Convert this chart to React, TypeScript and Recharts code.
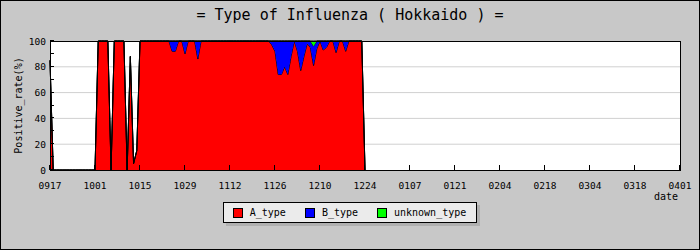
import { AreaChart, Area, XAxis, YAxis, CartesianGrid, Legend } from 'recharts';

// x axis: day index counted from 09/17, one tick every two weeks
const tickDays = [0, 14, 28, 42, 56, 70, 84, 98, 112, 126, 140, 154, 168, 182, 196];
const tickLabels = ['0917', '1001', '1015', '1029', '1112', '1126', '1210', '1224', '0107', '0121', '0204', '0218', '0304', '0318', '0401'];
const yTicks = [0, 10, 20, 30, 40, 50, 60, 70, 80, 90, 100];

// positive rate (%) per day, 0917 .. 1224
const typeA = [
  85, 0, 0, 0, 0, 0, 0, 0, 0, 0, 0, 0, 0, 0,
  0, 100, 100, 100, 100, 0, 100, 100, 100, 100, 0, 88, 5, 15,
  100, 100, 100, 100, 100, 100, 100, 100, 100, 100, 92, 92, 100, 100,
  90, 100, 100, 100, 86, 100, 100, 100, 100, 100, 100, 100, 100, 100,
  100, 100, 100, 100, 100, 100, 100, 100, 100, 100, 100, 100, 100, 97,
  92, 74, 74, 80, 74, 88, 100, 92, 77, 88, 98, 95, 81, 94,
  100, 93, 95, 100, 100, 91, 100, 100, 92, 100, 100, 100, 100, 100,
  0,
];
const typeB = [
  0, 0, 0, 0, 0, 0, 0, 0, 0, 0, 0, 0, 0, 0,
  0, 0, 0, 0, 0, 0, 0, 0, 0, 0, 0, 0, 0, 0,
  0, 0, 0, 0, 0, 0, 0, 0, 0, 0, 8, 8, 0, 0,
  10, 0, 0, 0, 14, 0, 0, 0, 0, 0, 0, 0, 0, 0,
  0, 0, 0, 0, 0, 0, 0, 0, 0, 0, 0, 0, 0, 3,
  8, 26, 26, 20, 26, 12, 0, 8, 23, 12, 2, 5, 15, 6,
  0, 7, 5, 0, 0, 9, 0, 0, 8, 0, 0, 0, 0, 0,
  0,
];
const typeUnknown = [
  0, 0, 0, 0, 0, 0, 0, 0, 0, 0, 0, 0, 0, 0,
  0, 0, 0, 0, 0, 0, 0, 0, 0, 0, 0, 0, 0, 0,
  0, 0, 0, 0, 0, 0, 0, 0, 0, 0, 0, 0, 0, 0,
  0, 0, 0, 0, 0, 0, 0, 0, 0, 0, 0, 0, 0, 0,
  0, 0, 0, 0, 0, 0, 0, 0, 0, 0, 0, 0, 0, 0,
  0, 0, 0, 0, 0, 0, 0, 0, 0, 0, 0, 0, 4, 0,
  0, 0, 0, 0, 0, 0, 0, 0, 0, 0, 0, 0, 0, 0,
  0,
];

const seriesKeys = ['A', 'B', 'U'];
const seriesNames = ['A_type', 'B_type', 'unknown_type'];
const seriesColors = ['#ff0000', '#0000ff', '#00ff00'];

const FONT = '"DejaVu Sans Mono", monospace';

const data = typeA.map((a, i) => ({ day: i, A: a, B: typeB[i], U: typeUnknown[i] }));

const crisp = (v: number) => Math.round(v) + 0.5;

const XTick = ({ x, y, payload }: any) => {
  const idx = tickDays.indexOf(payload.value);
  const cx = crisp(x) - 1;
  return (
    <g>
      <line x1={cx} x2={cx} y1={y} y2={y - 5} stroke="#000" />
      <text x={x} y={y + 19} textAnchor="middle" fontSize={9.5} fontFamily={FONT} fill="#000">
        {tickLabels[idx]}
      </text>
    </g>
  );
};

const YTick = ({ x, y, payload }: any) => {
  const cy = crisp(y) - 1;
  return (
    <g>
      <line x1={x} x2={x + 4} y1={cy} y2={cy} stroke="#000" />
      {payload.value % 20 === 0 && (
        <text x={x - 4} y={y + 3.5} textAnchor="end" fontSize={9.5} fontFamily={FONT} fill="#000">
          {payload.value}
        </text>
      )}
    </g>
  );
};

const renderLegend = () => (
  <div style={{ display: 'flex', justifyContent: 'center' }}>
    <div
      style={{
        display: 'flex',
        alignItems: 'center',
        height: 21,
        boxSizing: 'border-box',
        border: '1px solid #000',
        background: '#ebebeb',
        boxShadow: '3px 3px 0 #b0b0b0',
        padding: '0 10px 0 9px',
        fontFamily: FONT,
        fontSize: 10,
        color: '#000',
      }}
    >
      {seriesNames.map((n, i) => (
        <div key={n} style={{ display: 'flex', alignItems: 'center', marginLeft: i ? 19 : 0 }}>
          <span
            style={{
              display: 'inline-block',
              width: 10,
              height: 10,
              boxSizing: 'border-box',
              border: '1px solid #000',
              background: seriesColors[i],
              marginRight: 7,
            }}
          />
          <span>{n}</span>
        </div>
      ))}
    </div>
  </div>
);

export default function App() {
  return (
    <div style={{ position: 'absolute', left: 0, top: 0, width: 700, height: 250, background: '#c8c8c8' }}>
      <AreaChart width={700} height={250} data={data} margin={{ top: 41, right: 20, bottom: 27, left: 0 }}>
        <CartesianGrid fill="#ffffff" stroke="#d0d0d0" vertical={false} horizontalValues={[20, 40, 60, 80]} />
        <XAxis
          dataKey="day"
          type="number"
          domain={[0, 196]}
          ticks={tickDays}
          interval={0}
          axisLine={false}
          tickLine={false}
          tickSize={0}
          tickMargin={0}
          height={32}
          tick={<XTick />}
          label={{ value: 'date', position: 'insideBottomRight', offset: 2, fontFamily: FONT, fontSize: 10, fill: '#000' }}
        />
        <YAxis
          type="number"
          domain={[0, 100]}
          ticks={yTicks}
          interval={0}
          axisLine={false}
          tickLine={false}
          tickSize={0}
          tickMargin={0}
          width={50}
          tick={<YTick />}
          label={{ value: 'Positive_rate(%)', angle: -90, position: 'center', dx: -7, fontFamily: FONT, fontSize: 10, fill: '#000' }}
        />
        {seriesKeys.map((k, i) => (
          <Area
            key={k}
            type="linear"
            dataKey={k}
            name={seriesNames[i]}
            stackId="1"
            stroke="#000"
            strokeWidth={1}
            fill={seriesColors[i]}
            fillOpacity={1}
            dot={false}
            activeDot={false}
            isAnimationActive={false}
          />
        ))}
        <Legend verticalAlign="bottom" align="center" wrapperStyle={{ left: 0, width: 700 }} content={renderLegend} />
      </AreaChart>
      <div
        style={{
          position: 'absolute',
          left: 0,
          top: 8,
          width: 700,
          textAlign: 'center',
          fontFamily: FONT,
          fontSize: 15,
          lineHeight: '15px',
          color: '#000',
        }}
      >
        = Type of Influenza ( Hokkaido ) =
      </div>
      <div
        style={{
          position: 'absolute',
          left: 50,
          top: 41,
          width: 631,
          height: 130,
          boxSizing: 'border-box',
          border: '1px solid #000',
          pointerEvents: 'none',
        }}
      />
      <div
        style={{
          position: 'absolute',
          left: 0,
          top: 0,
          width: 700,
          height: 250,
          boxSizing: 'border-box',
          border: '1px solid #000',
          pointerEvents: 'none',
        }}
      />
    </div>
  );
}
